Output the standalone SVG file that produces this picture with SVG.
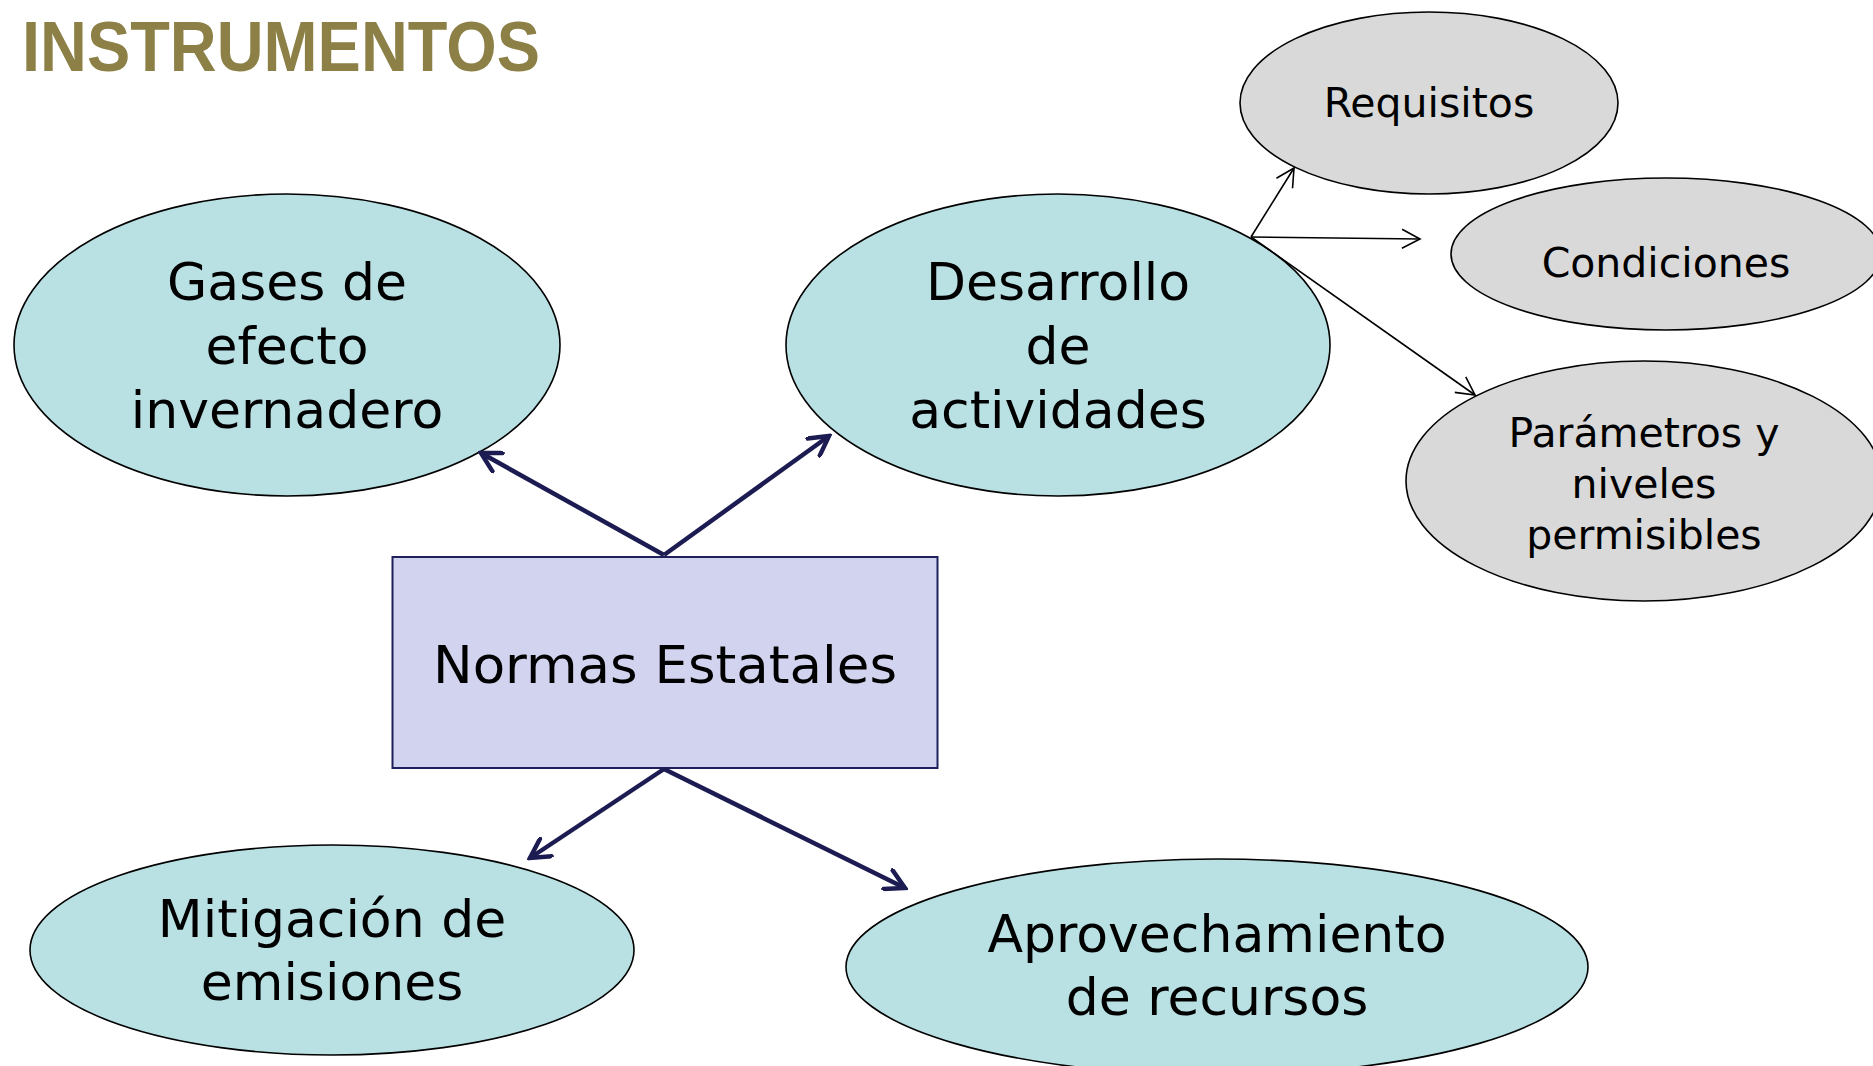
<svg xmlns="http://www.w3.org/2000/svg" width="1873" height="1066" viewBox="0 0 1873 1066">
<style>
.main{fill:#B9E0E3;stroke:#000;stroke-width:1.6}
.sub{fill:#D9D9D9;stroke:#000;stroke-width:1.6}
.t{font-family:"DejaVu Sans",sans-serif;fill:#000;text-anchor:middle}
.big{font-size:52px}
.small{font-size:41px}
.thick{stroke:#1C1C52;stroke-width:4.5;fill:none}
.thin{stroke:#000;stroke-width:1.6;fill:none}
</style>
<defs>
<marker id="ah" markerUnits="userSpaceOnUse" viewBox="0 0 24 24" refX="21" refY="12" markerWidth="24" markerHeight="24" orient="auto">
<path d="M2,1.5 L21,12 L2,22.5" fill="none" stroke="#1C1C52" stroke-width="4.5" stroke-linecap="round" stroke-linejoin="miter"/>
</marker>
<marker id="ahs" markerUnits="userSpaceOnUse" viewBox="0 0 24 24" refX="21" refY="12" markerWidth="24" markerHeight="24" orient="auto">
<path d="M3,2.5 L21,12 L3,21.5" fill="none" stroke="#000" stroke-width="1.6"/>
</marker>
</defs>
<rect width="1873" height="1066" fill="#fff"/>
<text x="22" y="71" font-family="Liberation Sans, Arial, sans-serif" font-weight="bold" font-size="70" fill="#8C8046" textLength="518" lengthAdjust="spacingAndGlyphs">INSTRUMENTOS</text>

<g id="node-gases">
<ellipse class="main" cx="287" cy="345" rx="273" ry="151"/>
<text class="t big" x="287" y="300">Gases de</text>
<text class="t big" x="287" y="364">efecto</text>
<text class="t big" x="287" y="428">invernadero</text>
</g>
<g id="node-desarrollo">
<ellipse class="main" cx="1058" cy="345" rx="272" ry="151"/>
<text class="t big" x="1058" y="300">Desarrollo</text>
<text class="t big" x="1058" y="364">de</text>
<text class="t big" x="1058" y="428">actividades</text>
</g>
<g id="node-requisitos">
<ellipse class="sub" cx="1429" cy="103" rx="189" ry="91"/>
<text class="t small" x="1429" y="117">Requisitos</text>
</g>
<g id="node-condiciones">
<ellipse class="sub" cx="1666" cy="254" rx="215" ry="76"/>
<text class="t small" x="1666" y="277">Condiciones</text>
</g>
<g id="node-parametros">
<ellipse class="sub" cx="1644" cy="481" rx="238" ry="120"/>
<text class="t small" x="1644" y="447">Parámetros y</text>
<text class="t small" x="1644" y="498">niveles</text>
<text class="t small" x="1644" y="549">permisibles</text>
</g>
<g id="node-normas">
<rect x="392.5" y="557" width="545" height="211" fill="#D2D3EF" stroke="#1F1F5C" stroke-width="2"/>
<text class="t big" x="665" y="683" textLength="464" lengthAdjust="spacingAndGlyphs">Normas Estatales</text>
</g>
<g id="node-mitigacion">
<ellipse class="main" cx="332" cy="950" rx="302" ry="105"/>
<text class="t big" x="332" y="937">Mitigación de</text>
<text class="t big" x="332" y="1000">emisiones</text>
</g>
<g id="node-aprovechamiento">
<ellipse class="main" cx="1217" cy="967" rx="371" ry="108"/>
<text class="t big" x="1217" y="952">Aprovechamiento</text>
<text class="t big" x="1217" y="1015">de recursos</text>
</g>

<g id="connectors">
<line class="thick" x1="664" y1="555" x2="481" y2="453" marker-end="url(#ah)"/>
<line class="thick" x1="664" y1="555" x2="829" y2="436" marker-end="url(#ah)"/>
<line class="thick" x1="664" y1="769" x2="530" y2="858" marker-end="url(#ah)"/>
<line class="thick" x1="664" y1="769" x2="905" y2="888" marker-end="url(#ah)"/>
<line class="thin" x1="1251" y1="237" x2="1294" y2="168" marker-end="url(#ahs)"/>
<line class="thin" x1="1251" y1="237" x2="1420" y2="239" marker-end="url(#ahs)"/>
<line class="thin" x1="1251" y1="237" x2="1475" y2="395" marker-end="url(#ahs)"/>
</g>
</svg>
